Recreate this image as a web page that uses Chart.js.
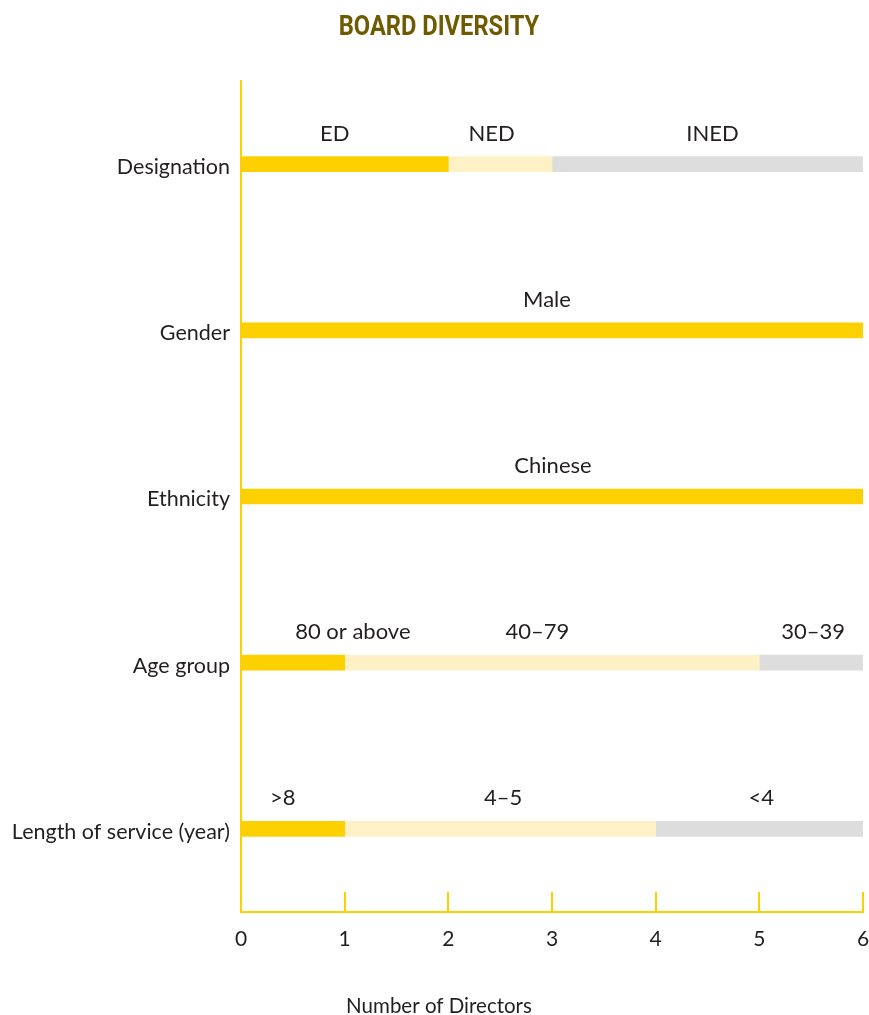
<!DOCTYPE html>
<html>
<head>
<meta charset="utf-8">
<script src="https://cdn.jsdelivr.net/npm/chart.js@4/dist/chart.umd.min.js"></script>
<style>
  html, body { margin: 0; padding: 0; background: #ffffff; }
  #wrap { width: 869px; height: 1015px; }
</style>
</head>
<body>
<div id="wrap"><canvas id="board" width="869" height="1015"></canvas></div>
<script>
// Board composition, one row per attribute
const categories = ['Designation', 'Gender', 'Ethnicity', 'Age group', 'Length of service (year)'];

// Number of directors in each segment (left, middle, right)
const firstGroup  = [2, 6, 6, 1, 1];
const secondGroup = [1, 0, 0, 4, 3];
const thirdGroup  = [3, 0, 0, 1, 2];

// Segment names written above the bars
const firstNames  = ['ED', 'Male', 'Chinese', '80 or above', '>8'];
const secondNames = ['NED', '', '', '40–79', '4–5'];
const thirdNames  = ['INED', '', '', '30–39', '<4'];

// Director count axis
const xTicks = [0, 1, 2, 3, 4, 5, 6];

const chartTitle = 'BOARD DIVERSITY';
const axisTitle = 'Number of Directors';

// Styling
const YELLOW = '#FDD000';
const CREAM  = '#FDF1C5';
const GREY   = '#DCDDDC';
const INK    = '#231F20';
const BODY_FONT = "Lato, 'Open Sans', sans-serif";
const PAGE_CENTER = 439;

// Horizontal nudges (px) for the segment names, per row and segment
const nameNudge = [
  [-10, -8.5, 5],
  [-5, 0, 0],
  [1, 0, 0],
  [60, -14.6, 2],
  [-10, 3, 2]
];
const segmentNames = [firstNames, secondNames, thirdNames];

// Writes each segment's name centred above its bar
const segmentLabels = {
  id: 'segmentLabels',
  afterDatasetsDraw(chart) {
    const ctx = chart.ctx;
    ctx.save();
    ctx.font = '22px ' + BODY_FONT;
    ctx.fillStyle = INK;
    ctx.textAlign = 'center';
    ctx.textBaseline = 'middle';
    chart.data.datasets.forEach((ds, di) => {
      const meta = chart.getDatasetMeta(di);
      meta.data.forEach((bar, i) => {
        const name = segmentNames[di][i];
        if (!name || !ds.data[i]) return;
        const cx = (bar.x + bar.base) / 2 + nameNudge[i][di];
        ctx.fillText(name, cx, bar.y - 30.5);
      });
    });
    ctx.restore();
  }
};

// Short tick marks rising from the bottom axis
const innerTicks = {
  id: 'innerTicks',
  afterDraw(chart) {
    const x = chart.scales.x;
    const ctx = chart.ctx;
    const bottom = chart.chartArea.bottom;
    ctx.save();
    ctx.strokeStyle = YELLOW;
    ctx.lineWidth = 2;
    ctx.beginPath();
    x.ticks.forEach(t => {
      if (t.value === x.min) return;
      const px = Math.round(x.getPixelForValue(t.value));
      ctx.moveTo(px, bottom);
      ctx.lineTo(px, bottom - 20);
    });
    ctx.stroke();
    ctx.restore();
  }
};

// Condensed bold heading at the top and the axis caption at the bottom
const captions = {
  id: 'captions',
  afterDraw(chart) {
    const ctx = chart.ctx;
    ctx.save();
    ctx.textAlign = 'center';
    ctx.textBaseline = 'alphabetic';

    ctx.save();
    ctx.font = "bold 27px Roboto, 'DejaVu Sans', sans-serif";
    ctx.fillStyle = '#6E5A00';
    ctx.translate(PAGE_CENTER, 35);
    ctx.scale(0.877, 1);
    ctx.fillText(chartTitle, 0, 0);
    ctx.restore();

    ctx.font = '20.5px ' + BODY_FONT;
    ctx.fillStyle = INK;
    ctx.fillText(axisTitle, PAGE_CENTER, 1012.5);
    ctx.restore();
  }
};

new Chart(document.getElementById('board'), {
  type: 'bar',
  data: {
    labels: categories,
    datasets: [
      { data: firstGroup,  backgroundColor: YELLOW },
      { data: secondGroup, backgroundColor: CREAM },
      { data: thirdGroup,  backgroundColor: GREY }
    ]
  },
  options: {
    indexAxis: 'y',
    responsive: false,
    animation: false,
    maintainAspectRatio: false,
    datasets: {
      bar: { barThickness: 15, borderWidth: 0, borderSkipped: false }
    },
    layout: { padding: { left: 0, right: 6, top: 81, bottom: 47.8 } },
    scales: {
      x: {
        stacked: true,
        min: xTicks[0],
        max: xTicks[xTicks.length - 1],
        afterBuildTicks(scale) { scale.ticks = xTicks.map(v => ({ value: v })); },
        afterFit(scale) { scale.paddingLeft = 0; scale.paddingRight = 0; },
        grid: { display: false, drawTicks: false },
        border: { display: true, color: YELLOW, width: 2 },
        ticks: {
          color: INK,
          padding: 15,
          font: { family: BODY_FONT, size: 21, lineHeight: 1.2 },
          maxRotation: 0
        }
      },
      y: {
        stacked: true,
        afterFit(scale) { scale.width = 241; },
        grid: { display: false, drawTicks: false },
        border: { display: true, color: YELLOW, width: 2 },
        ticks: {
          color: INK,
          padding: 11,
          labelOffset: 3,
          font: { family: BODY_FONT, size: 21.5, lineHeight: 1.2 }
        }
      }
    },
    plugins: {
      legend: { display: false },
      tooltip: { enabled: false },
      title: { display: false },
      subtitle: { display: false }
    }
  },
  plugins: [segmentLabels, innerTicks, captions]
});
</script>
</body>
</html>
